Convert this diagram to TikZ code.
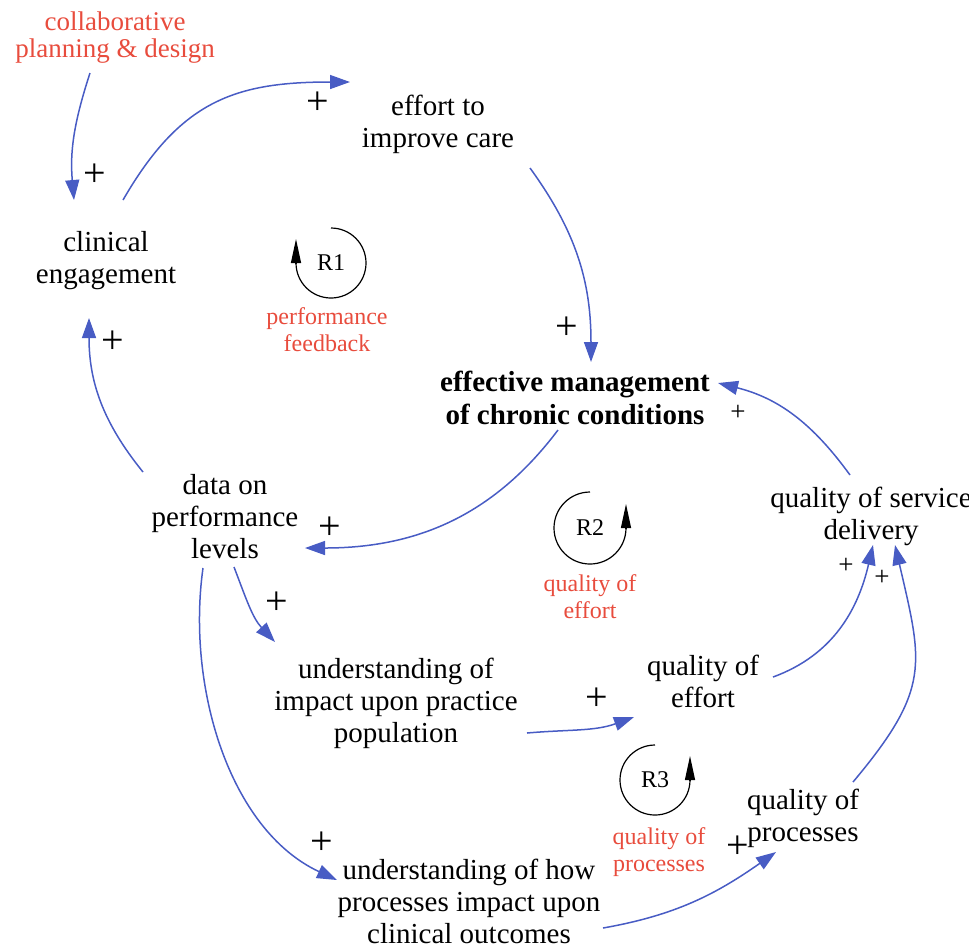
\documentclass[tikz,border=0pt]{standalone}
\usepackage{fontspec}
\setmainfont{Liberation Serif}
\usetikzlibrary{arrows.meta}
\definecolor{linkblue}{RGB}{72,92,196}
\definecolor{loopred}{RGB}{232,76,61}

\begin{document}
\begin{tikzpicture}[x=0.5pt,y=0.5pt,
  var/.style={inner sep=0pt, align=center, font=\fontsize{14.5}{16}\selectfont},
  keyvar/.style={var, font=\fontsize{14.5}{16.5}\selectfont\bfseries},
  driver/.style={inner sep=0pt, align=center, text=loopred, font=\fontsize{13.5}{13.5}\selectfont},
  loopnote/.style={inner sep=0pt, align=center, text=loopred, font=\fontsize{12}{13.5}\selectfont},
  looptag/.style={inner sep=0pt, font=\fontsize{12}{12}\selectfont},
  loopline/.style={draw=black, line width=0.6pt},
  looptip/.style={draw=black, line width=0.6pt, -{Triangle[length=12pt,width=5pt]}},
  conn/.style={draw=linkblue, line width=0.75pt, -{Triangle[length=10pt,width=7pt]}},
  plusbig/.style={inner sep=0pt, font=\fontsize{20}{20}\selectfont},
  plussmall/.style={inner sep=0pt, font=\fontsize{13.5}{13.5}\selectfont}
]
\useasboundingbox (0,0) rectangle (969,-950);

% variables
\node[driver] (collab) at (115,-38) {collaborative\\planning \& design};
\node[var] (effort) at (438,-124) {effort to\\improve care};
\node[var] (clin) at (106,-261) {clinical\\engagement};
\node[keyvar] (ecc) at (575,-398) {effective management\\of chronic conditions};
\node[var] (data) at (225,-517) {data on\\performance\\levels};
\node[var] (uimp) at (396,-703) {understanding of\\impact upon practice\\population};
\node[var] (uhow) at (469,-901) {understanding of how\\processes impact upon\\clinical outcomes};
\node[var] (qeff) at (703,-681) {quality of\\effort};
\node[var] (qproc) at (803,-818) {quality of\\processes};
\node[var] (qsd) at (871,-516) {quality of service\\delivery};

% causal links
\draw[conn] ([shift={(-25,-35)}]collab.center) to[out=252,in=95] ([shift={(-32,61)}]clin.center);
\draw[conn] ([shift={(17,61)}]clin.center) to[out=60,in=180,looseness=1.15] ([shift={(-88,42)}]effort.center);
\draw[conn] ([shift={(92,-44)}]effort.center) to[out=-54,in=90] ([shift={(16,36)}]ecc.center);
\draw[conn] ([shift={(-17,-32)}]ecc.center) to[out=233,in=0] ([shift={(80,-31)}]data.center);
\draw[conn] ([shift={(-82,45)}]data.center) to[out=129,in=270] ([shift={(-17,-57)}]clin.center);
\draw[conn] ([shift={(9,-50)}]data.center) to[out=-69,in=133] ([shift={(-121,61)}]uimp.center);
\draw[conn] ([shift={(-22,-51)}]data.center) to[out=262,in=155,looseness=0.9] ([shift={(-132,21)}]uhow.center);
\draw[conn] ([shift={(131,-30)}]uimp.center) to[out=5,in=200] ([shift={(-69,-36)}]qeff.center);
\draw[conn] ([shift={(70,4)}]qeff.center) to[out=20,in=257] ([shift={(2,-29)}]qsd.center);
\draw[conn] ([shift={(50,36)}]qproc.center) to[out=50,in=283,looseness=1.3] ([shift={(24,-29)}]qsd.center);
\draw[conn] ([shift={(-21,41)}]qsd.center) to[out=126,in=346] ([shift={(143,15)}]ecc.center);
\draw[conn] ([shift={(134,-27)}]uhow.center) to[out=10,in=215] ([shift={(-27,-34)}]qproc.center);

% polarities
\node[plusbig] (s1) at (95,-175) {+};
\node[plusbig] (s2) at (318,-103) {+};
\node[plusbig] (s3) at (567,-328) {+};
\node[plusbig] (s4) at (113,-342) {+};
\node[plusbig] (s5) at (330,-528) {+};
\node[plusbig] (s6) at (277,-603) {+};
\node[plusbig] (s7) at (322,-843) {+};
\node[plusbig] (s8) at (597,-699) {+};
\node[plusbig] (s9) at (738,-847) {+};
\node[plussmall] (s10) at (738,-413) {+};
\node[plussmall] (s11) at (846,-566) {+};
\node[plussmall] (s12) at (882,-578) {+};

% reinforcing loop markers
\node[looptag] (r1) at (331,-263) {R1};
\draw[loopline] ([shift={(90:35)}]r1.center) arc[start angle=90,end angle=-180,radius=35];
\draw[looptip] ([shift={(-35,0)}]r1.center) -- ([shift={(-35,24)}]r1.center);
\node[loopnote] (r1note) at (327,-330) {performance\\feedback};

\node[looptag] (r2) at (590,-528) {R2};
\draw[loopline] ([shift={(90:36)}]r2.center) arc[start angle=90,end angle=360,radius=36];
\draw[looptip] ([shift={(36,0)}]r2.center) -- ([shift={(36,24)}]r2.center);
\node[loopnote] (r2note) at (590,-597) {quality of\\effort};

\node[looptag] (r3) at (655,-780) {R3};
\draw[loopline] ([shift={(90:35)}]r3.center) arc[start angle=90,end angle=360,radius=35];
\draw[looptip] ([shift={(35,0)}]r3.center) -- ([shift={(35,24)}]r3.center);
\node[loopnote] (r3note) at (659,-852) {quality of\\processes};
\end{tikzpicture}
\end{document}
